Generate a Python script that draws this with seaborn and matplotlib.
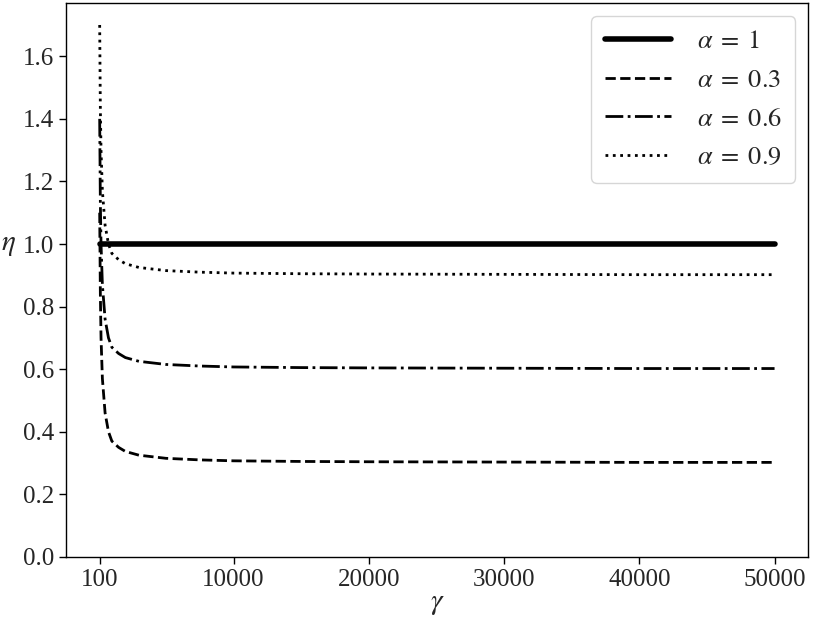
import pandas as pd
import matplotlib.pyplot as plt
import seaborn as sns

sns.set_theme(style="ticks")
plt.rcParams["font.family"] = ["Liberation Serif", "DejaVu Serif"]
plt.rcParams["mathtext.fontset"] = "stix"

# values
gamma = [100, 150, 200, 300, 500, 750, 1000, 1500, 2000, 3000, 5000, 7500,
         10000, 15000, 20000, 30000, 40000, 50000]
eta_a1 = [1.0] * len(gamma)
eta_a03 = [1.10, 0.84, 0.70, 0.57, 0.46, 0.40, 0.37, 0.35, 0.337, 0.325, 0.315,
           0.31, 0.307, 0.305, 0.304, 0.303, 0.302, 0.302]
eta_a06 = [1.40, 1.13, 1.00, 0.87, 0.76, 0.70, 0.67, 0.65, 0.637, 0.625, 0.615,
           0.61, 0.607, 0.605, 0.604, 0.603, 0.602, 0.602]
eta_a09 = [1.70, 1.43, 1.30, 1.17, 1.06, 1.00, 0.97, 0.95, 0.937, 0.925, 0.915,
           0.91, 0.907, 0.905, 0.904, 0.903, 0.902, 0.902]
xticks = [100, 10000, 20000, 30000, 40000, 50000]

series = [
    (r"$\alpha\;=\;1$", eta_a1, "-", 4),
    (r"$\alpha\;=\;0.3$", eta_a03, "--", 2),
    (r"$\alpha\;=\;0.6$", eta_a06, "-.", 2),
    (r"$\alpha\;=\;0.9$", eta_a09, ":", 2),
]

fig = plt.figure(figsize=(8.14, 6.25), dpi=100)
ax = fig.add_axes([0.081, 0.109, 0.912, 0.886])

for label, vals, ls, lw in series:
    df = pd.DataFrame({"gamma": gamma, "eta": vals})
    sns.lineplot(data=df, x="gamma", y="eta", ax=ax, color="black",
                 linestyle=ls, linewidth=lw, label=label)

ax.set_ylim(bottom=0)
ax.set_xticks(xticks)
ax.set_xticklabels([str(t) for t in xticks])
ax.tick_params(labelsize=18, direction="out", length=5, width=1, color="black")
for s in ax.spines.values():
    s.set_color("black")
    s.set_linewidth(1)

ax.set_xlabel(r"$\gamma$", fontsize=21, labelpad=0)
ax.set_ylabel(r"$\eta$", fontsize=21, rotation=0, labelpad=6)
ax.yaxis.set_label_coords(-0.077, 0.54)

ax.legend(loc="upper right", fontsize=19, handlelength=2.5, labelspacing=0.58,
          handletextpad=1.0, borderpad=0.5, frameon=True)

fig.savefig("out.png", dpi=100)
